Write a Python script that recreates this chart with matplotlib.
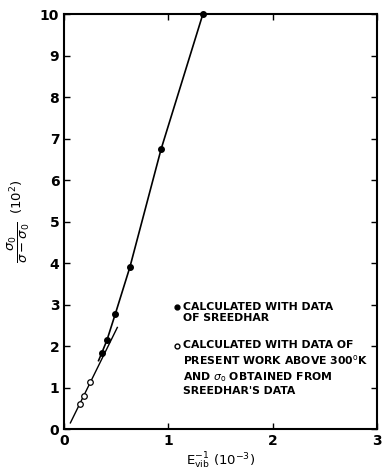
import matplotlib
matplotlib.use('Agg')
import matplotlib.pyplot as plt

# Sreedhar data (filled) and present work (open)
x_sreedhar = [0.36, 0.41, 0.49, 0.63, 0.93, 1.33]
y_sreedhar = [1.83, 2.14, 2.77, 3.90, 6.75, 10.0]
x_present = [0.15, 0.19, 0.25]
y_present = [0.60, 0.80, 1.13]

# fitted lines
x_upper = [0.33, 0.36, 0.41, 0.49, 0.63, 0.93, 1.33]
y_upper = [1.65, 1.83, 2.14, 2.77, 3.90, 6.75, 10.0]
x_lower = [0.06, 0.51]
y_lower = [0.15, 2.45]

plt.rcParams['font.family'] = 'DejaVu Sans'
fig = plt.figure(figsize=(3.84, 4.70), dpi=100)
ax = fig.add_axes([0.167, 0.087, 0.815, 0.883])

ax.plot(x_upper, y_upper, color='k', linewidth=1.2)
ax.plot(x_lower, y_lower, color='k', linewidth=1.0)
ax.plot(x_sreedhar, y_sreedhar, 'o', color='k', markersize=4, clip_on=False)
ax.plot(x_present, y_present, 'o', markerfacecolor='white', markeredgecolor='k',
        markersize=4, markeredgewidth=0.9)

ax.set_xlim(0, 3)
ax.set_ylim(0, 10)
ax.set_xticks([0, 1, 2, 3])
ax.set_yticks(range(0, 11))
ax.tick_params(direction='in', top=True, right=True, length=4, width=1, labelsize=10)
for lbl in ax.get_xticklabels() + ax.get_yticklabels():
    lbl.set_fontweight('bold')
for sp in ax.spines.values():
    sp.set_linewidth(1.5)

ax.set_xlabel(r'E$^{-1}_{\rm vib}$ (10$^{-3}$)', fontsize=9.5, labelpad=2)
ax.set_ylabel(r'$\dfrac{\sigma_0}{\sigma - \sigma_0}$  (10$^2$)', fontsize=9.5, labelpad=6)

# legend text
kw = dict(transform=ax.transAxes, fontsize=7.8, fontweight='bold', va='top')
ax.plot([0.361], [0.294], 'o', color='k', markersize=3.5, transform=ax.transAxes)
ax.text(0.38, 0.307, 'CALCULATED WITH DATA\nOF SREEDHAR', linespacing=1.15, **kw)
ax.plot([0.361], [0.200], 'o', markerfacecolor='white', markeredgecolor='k',
        markersize=3.5, transform=ax.transAxes)
ax.text(0.38, 0.215, 'CALCULATED WITH DATA OF\nPRESENT WORK ABOVE 300$^{\\rm o}$K\n'
        'AND $\\sigma_{\\rm o}$ OBTAINED FROM\nSREEDHAR\'S DATA', linespacing=1.3, **kw)

fig.savefig('out.png', dpi=100)
